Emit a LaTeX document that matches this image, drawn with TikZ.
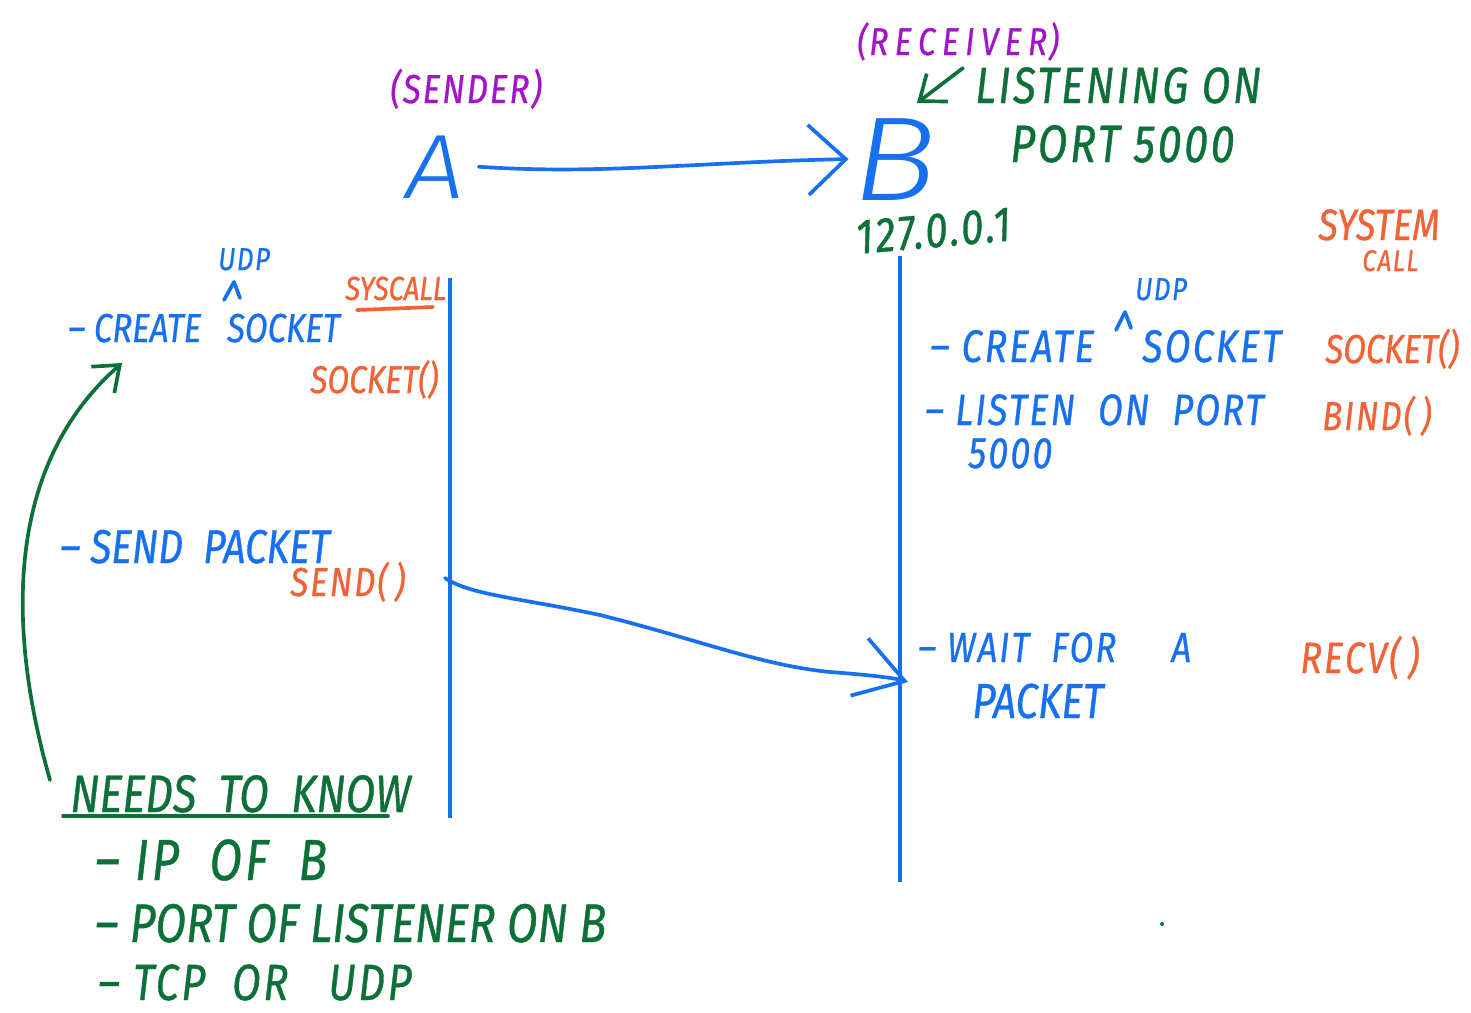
\documentclass[tikz,border=0pt]{standalone}
\usepackage{fontspec}
\usetikzlibrary{arrows.meta}
\newfontfamily\hand{Fira Sans}[FakeStretch=0.82, LetterSpace=5, FakeBold=0.7]
\newfontfamily\handbig{Fira Sans Light}[FakeStretch=0.82]
\newcommand\handsz[1]{\hand\itshape\fontsize{#1}{#1}\selectfont}
\newcommand\bigsz[1]{\handbig\itshape\fontsize{#1}{#1}\selectfont}
\definecolor{inkblue}{RGB}{22,112,240}
\definecolor{inkgreen}{RGB}{12,112,56}
\definecolor{inkorange}{RGB}{242,98,52}
\definecolor{inkpurple}{RGB}{162,20,200}
\tikzset{
  txt/.style={inner sep=0pt, anchor=base west},
  sz/.style={font=\handsz{#1}},
  tsz/.style={font=\handsz{#1}\addfontfeature{LetterSpace=0}},
  bsz/.style={font=\bigsz{#1}},
  blu/.style={txt, text=inkblue},
  grn/.style={txt, text=inkgreen},
  org/.style={txt, text=inkorange},
  pur/.style={txt, text=inkpurple},
  pen/.style={line width=2.1pt, line cap=round, line join=round},
  lifeline/.style={inkblue, line width=1.8pt},
  bigbarb/.style={-{Straight Barb[length=0.75cm,width=1.4cm,line width=2.1pt]}},
  midbarb/.style={-{Straight Barb[length=0.95cm,width=1.2cm,line width=2.1pt]}},
  smallbarb/.style={-{Straight Barb[length=0.45cm,width=0.7cm,line width=2.1pt]}},
}
\begin{document}
\begin{tikzpicture}[x=0.02cm, y=-0.02cm]
\fill[white] (0,0) rectangle (1471,1012);
\useasboundingbox (0,0) rectangle (1471,1012);

% hosts
\node[pur, sz=23] (sender) at (390,103) {(SENDER)};
\node[pur, sz=22] (receiver) at (857,55) {(R\,E\,C\,E\,I\,V\,E\,R)};
\node[blu, bsz=52] (A) at (405,198) {\scalebox{1.4}[1]{A}};
\node[blu, bsz=68] (B) at (852,200) {\scalebox{1.45}[1]{B}};
\draw[pen, inkblue, bigbarb] ([xshift=8]A.east) .. controls (600,175) and (700,162) .. ([xshift=-2]B.west);

\node[grn, sz=29] (listen) at (975,103) {LISTENING\ ON};
\node[grn, sz=30] (port) at (1010,162) {PORT\ 5000};
\coordinate (ptr) at (963,68);
\draw[pen, inkgreen, smallbarb] (ptr) -- (917,103);
\node[grn, sz=28, rotate=5] (ip) at (857,254) {127.0.0.1};

\node[org, tsz=25] (system) at (1318,240) {SYSTEM};
\node[org, sz=17] (call) at (1362,271) {CALL};

% lifelines
\coordinate (atop) at (450,278);
\coordinate (abot) at (450,818);
\coordinate (btop) at (900,256);
\coordinate (bbot) at (900,882);
\draw[lifeline] (atop) -- (abot);
\draw[lifeline] (btop) -- (bbot);

% sender steps
\node[blu, sz=18] (udpA) at (218,270) {UDP};
\draw[pen, inkblue] (224,300) -- (234,282) -- (240,298);
\node[org, tsz=19] (syscall) at (345,300) {SYSCALL};
\draw[pen, inkorange] (357,310) -- (433,307);
\node[blu, tsz=23] (createA) at (68,342) {– CREATE\ \ \ SOCKET};
\node[org, tsz=22] (socketA) at (310,393) {SOCKET()};
\node[blu, tsz=27] (sendpk) at (60,563) {– SEND\ \ PACKET};
\node[org, sz=23] (sendfn) at (290,596) {SEND(\,)};

% receiver steps
\node[blu, sz=18] (udpB) at (1135,300) {UDP};
\draw[pen, inkblue] (1116,330) -- (1125,312) -- (1131,328);
\node[blu, sz=26] (createB) at (930,362) {– CREATE\ \ \ \ SOCKET};
\node[org, tsz=23] (socketB) at (1325,363) {SOCKET()};
\node[blu, sz=25] (listenB) at (925,425) {– LISTEN\ \ ON\ \ PORT};
\node[blu, sz=25] (portB) at (968,468) {5000};
\node[org, sz=23] (bind) at (1322,430) {BIND(\,)};
\node[blu, sz=24] (wait) at (918,662) {– WAIT\ \ FOR\ \ \ \ \ A};
\node[blu, tsz=28] (waitpk) at (972,718) {PACKET};
\node[org, sz=25] (recv) at (1300,673) {RECV(\,)};

% packet travelling from A to B
\coordinate (sendpt) at (445,578);
\coordinate (recvpt) at (908,682);
\draw[pen, inkblue, midbarb] (sendpt) .. controls (470,595) and (520,598) .. (600,615)
  .. controls (700,640) and (760,665) .. (830,672)
  .. controls (870,675) and (895,678) .. (recvpt);

% what the sender needs
\node[grn, tsz=30] (needs) at (70,812) {NEEDS\ \ TO\ \ KNOW};
\draw[pen, inkgreen] (63,816) -- (388,816);
\node[grn, sz=33] (ipB) at (95,880) {– IP\ \ OF\ \ B};
\node[grn, tsz=31] (portL) at (95,942) {– PORT\ OF\ LISTENER\ ON\ B};
\node[grn, sz=29] (proto) at (98,1000) {– TCP\ \ OR\ \ \ UDP};
\coordinate (gstart) at (50,780);
\coordinate (gend) at (122,363);
\draw[pen, inkgreen, smallbarb] (gstart) .. controls (10,640) and (0,470) .. (gend);

\fill[inkgreen] (1162,924) circle (2);
\end{tikzpicture}
\end{document}
